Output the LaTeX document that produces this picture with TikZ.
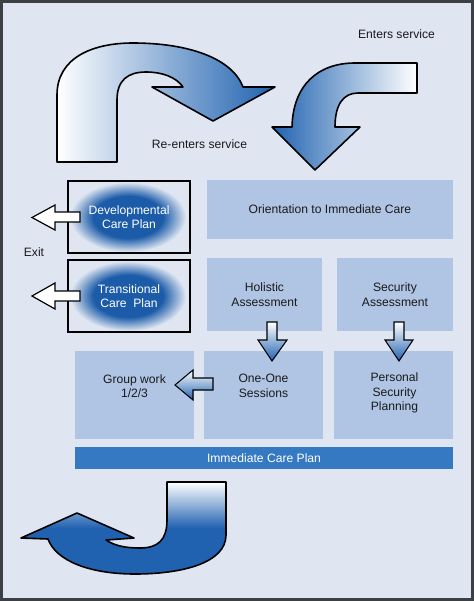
\documentclass[tikz,border=0pt]{standalone}
\usepackage{fontspec}
\setmainfont{Liberation Sans}
\newlength\pxl
\setlength\pxl{0.75pt}
\definecolor{framecol}{HTML}{3C3F44}
\definecolor{bgcol}{HTML}{DFE6F2}
\definecolor{boxcol}{HTML}{B0C4E4}
\definecolor{barcol}{HTML}{3579C2}
\definecolor{arrowblue}{HTML}{2062B0}
\definecolor{ellblue}{HTML}{1B5BA8}
\definecolor{txtcol}{HTML}{1A1A1A}
\pgfdeclareradialshading{ellshade}{\pgfpoint{0bp}{0bp}}{color(0bp)=(ellblue); color(15bp)=(ellblue); color(25bp)=(bgcol); color(50bp)=(bgcol)}
\begin{document}
\begin{tikzpicture}[x=0.75pt,y=-0.75pt,
  every node/.style={font=\fontsize{9.1}{10.9}\selectfont, text=txtcol, align=center, inner sep=0pt},
  bluebox/.style={fill=boxcol, draw=none},
  planbox/.style={draw=black, line width=1.1pt, fill=none},
  bigarrow/.style={draw=black, line width=1.2pt, line join=round},
  smallarrow/.style={draw=black, line width=0.8pt, line join=miter, top color=white, bottom color=arrowblue},
  exitarrow/.style={draw=black, line width=0.9pt, fill=white, line join=miter},
  lbl/.style={text=txtcol}]
\useasboundingbox (0,0) rectangle (474,601);
\fill[framecol] (0,0) rectangle (474,601);
\fill[bgcol] (3,3) rectangle (471,598);

% big top-left arrow (re-enters)
\shadedraw[bigarrow, left color=white, right color=arrowblue]
  (57,162) -- (57,95) .. controls (57,58) and (92,43) .. (133,43)
  .. controls (188,43) and (232,58) .. (243,87) -- (275,87) -- (213,121) -- (152,87) -- (183,87)
  .. controls (176,77) and (162,72) .. (146,72) .. controls (128,72) and (117,80) .. (117,100)
  -- (117,162) -- cycle;
% big top-right arrow (enters)
\shadedraw[bigarrow, left color=arrowblue, right color=white]
  (417,63) -- (355,63) .. controls (318,63) and (293,85) .. (292,127) -- (272,127) -- (315,170)
  -- (360,127) -- (335,127) .. controls (335,105) and (343,93) .. (358,93) -- (417,93) -- cycle;
% big bottom arrow
\shadedraw[bigarrow, top color=white, bottom color=arrowblue, middle color=arrowblue]
  (167,482) -- (226,482) -- (226,535) .. controls (226,563) and (182,574) .. (135,574)
  .. controls (90,574) and (56,561) .. (48,539) -- (21,538) -- (77,513) -- (134,538) -- (106,540)
  .. controls (115,546) and (126,548) .. (140,548) .. controls (158,548) and (167,540) .. (167,520)
  -- cycle;

\node[lbl] (enters) at (396.5,34) {Enters service};
\node[lbl] (reenters) at (199.5,144) {Re-enters service};

% plan boxes
\shade[shading=ellshade] (128,217) ellipse [x radius=58, y radius=35];
\shade[shading=ellshade] (128,296) ellipse [x radius=58, y radius=35];
\node[planbox, minimum width=122\pxl, minimum height=72\pxl, text=white] (dev) at (129,217) {Developmental\\Care Plan};
\node[planbox, minimum width=122\pxl, minimum height=72\pxl, text=white] (trans) at (129,296) {Transitional\\Care\ \ Plan};

% exit arrows
\draw[exitarrow] (80,212) -- (55,212) -- (55,205) -- (32,217.5) -- (55,230) -- (55,222) -- (80,222) -- cycle;
\draw[exitarrow] (80,291) -- (55,291) -- (55,283) -- (32,296) -- (55,309) -- (55,301) -- (80,301) -- cycle;
\node[lbl] (exit) at (34,252) {Exit};

% blue boxes
\node[bluebox, minimum width=246\pxl, minimum height=59\pxl] (orient) at (330,209.5) {Orientation to Immediate Care};
\node[bluebox, minimum width=115\pxl, minimum height=73\pxl] (hol) at (264.5,294.5) {Holistic\\Assessment};
\node[bluebox, minimum width=116\pxl, minimum height=73\pxl] (sec) at (395,294.5) {Security\\Assessment};
\node[bluebox, minimum width=119\pxl, minimum height=88\pxl] (grp) at (134.5,395) {};
\node[bluebox, minimum width=119\pxl, minimum height=88\pxl] (one) at (263.5,395) {};
\node[bluebox, minimum width=119\pxl, minimum height=88\pxl] (psp) at (393.5,395) {};
\node[lbl] (grpt) at (134.5,386) {Group work\\1/2/3};
\node[lbl] (onet) at (263.5,386) {One-One\\Sessions};
\node[lbl] (pspt) at (394.5,393) {Personal\\Security\\Planning};
\node[fill=barcol, minimum width=378\pxl, minimum height=22\pxl, text=white] (bar) at (264,458) {Immediate Care Plan};

% small arrows
\shadedraw[smallarrow] (267,322) -- (277,322) -- (277,340) -- (287,340) -- (272,361) -- (258,340) -- (267,340) -- cycle;
\shadedraw[smallarrow] (394,322) -- (404,322) -- (404,340) -- (413,340) -- (399,361) -- (385,340) -- (394,340) -- cycle;
\shadedraw[smallarrow] (213,378) -- (213,390) -- (193,390) -- (193,400) -- (175,385) -- (193,370) -- (193,378) -- cycle;
\end{tikzpicture}
\end{document}
